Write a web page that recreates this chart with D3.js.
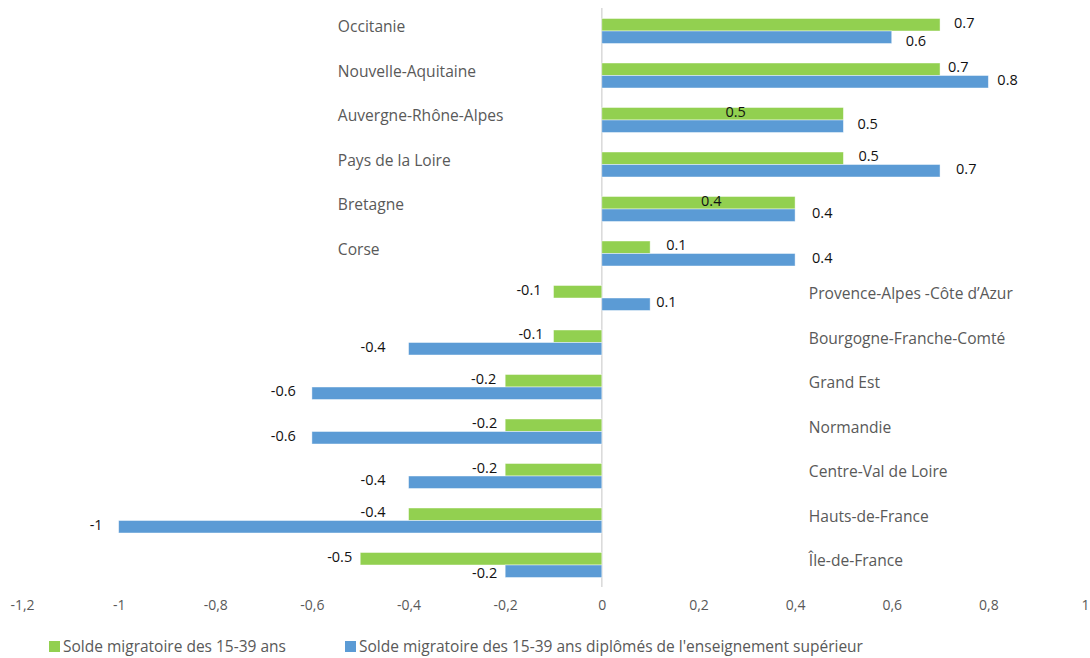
<!DOCTYPE html>
<html>
<head>
<meta charset="utf-8">
<script src="https://cdn.jsdelivr.net/npm/d3@7"></script>
<style>
  html, body { margin: 0; padding: 0; background: #fff; }
  svg { display: block; }
  text { font-family: "Open Sans", "Noto Sans", sans-serif; }
</style>
</head>
<body>
<svg id="chart" width="1090" height="658"></svg>
<script>
// ---- data ----
const regions = [
  "Occitanie", "Nouvelle-Aquitaine", "Auvergne-Rhône-Alpes", "Pays de la Loire",
  "Bretagne", "Corse", "Provence-Alpes -Côte d’Azur", "Bourgogne-Franche-Comté",
  "Grand Est", "Normandie", "Centre-Val de Loire", "Hauts-de-France", "Île-de-France"
];
const solde1539 = [0.7, 0.7, 0.5, 0.5, 0.4, 0.1, -0.1, -0.1, -0.2, -0.2, -0.2, -0.4, -0.5];
const soldeDiplomes = [0.6, 0.8, 0.5, 0.7, 0.4, 0.4, 0.1, -0.4, -0.6, -0.6, -0.4, -1, -0.2];
const xTicks = [-1.2, -1, -0.8, -0.6, -0.4, -0.2, 0, 0.2, 0.4, 0.6, 0.8, 1];
const seriesNames = ["Solde migratoire des 15-39 ans",
  "Solde migratoire des 15-39 ans diplômés de l'enseignement supérieur"];

// ---- layout (pixel nudges for hand-placed data labels) ----
const greenLabelDx = [0, -6, -132, 1, -108, 2, -2, 0, 1, 2, 2, -13, 2];
const blueLabelDx  = [0, -5, 0, 2, 3, 3, -8, -13, -6, -6, -13, -6, 2];
const blueLabelDy  = [6, 0, 0, 0, 0, 0, 0, 0, 0, 0, 0, 0, 4];
const colors = ["#92D050", "#5B9BD5"];

const svg = d3.select("#chart");
const x = d3.scaleLinear().domain([-1.2, 1]).range([22, 1085]);
const y = d3.scalePoint().domain(regions).range([8.75, 587.25]).padding(0.5);
const barH = 12.5;

// zero line
svg.append("line")
  .attr("x1", x(0)).attr("x2", x(0))
  .attr("y1", 8).attr("y2", 587)
  .attr("stroke", "#d9d9d9").attr("stroke-width", 1.5);

const series = [solde1539, soldeDiplomes];
series.forEach((vals, si) => {
  svg.append("g").selectAll("rect")
    .data(vals)
    .join("rect")
    .attr("x", d => x(Math.min(0, d)))
    .attr("width", d => Math.abs(x(d) - x(0)))
    .attr("y", (d, i) => y(regions[i]) - (si === 0 ? barH : 0))
    .attr("height", barH)
    .attr("fill", colors[si])
    .attr("stroke", "rgba(255,255,255,0.55)")
    .attr("stroke-width", 0.8);
});

// value labels
function fmt(v) { return String(v); }
series.forEach((vals, si) => {
  const dxArr = si === 0 ? greenLabelDx : blueLabelDx;
  svg.append("g").selectAll("text")
    .data(vals)
    .join("text")
    .attr("x", (d, i) => x(d) + (d >= 0 ? 14 : -10) + dxArr[i])
    .attr("y", (d, i) => y(regions[i]) + (si === 0 ? -barH / 2 - 2 : barH / 2 - 2 + blueLabelDy[i]))
    .attr("dy", "0.35em")
    .attr("text-anchor", d => d >= 0 ? "start" : "end")
    .attr("font-size", "14.5px")
    .attr("fill", "#111")
    .text(d => fmt(d));
});

// category labels
svg.append("g").selectAll("text")
  .data(regions)
  .join("text")
  .attr("x", (d, i) => solde1539[i] >= 0 ? x(0) - 264 : x(0) + 207)
  .attr("y", d => y(d) - 4)
  .attr("dy", "0.35em")
  .attr("font-size", "15.6px")
  .attr("fill", "#595959")
  .text(d => d);

// x axis labels
const axis = d3.axisBottom(x).tickValues(xTicks).tickSize(0).tickPadding(0)
  .tickFormat(d => String(d).replace(".", ","));
const ga = svg.append("g").attr("transform", "translate(0,600)").call(axis);
ga.select(".domain").remove();
ga.selectAll("text")
  .attr("font-family", "'Open Sans', sans-serif")
  .attr("font-size", "14px")
  .attr("fill", "#595959");

// legend
const legendX = [49, 345];
seriesNames.forEach((name, i) => {
  const g = svg.append("g").attr("transform", `translate(${legendX[i]},641)`);
  g.append("rect").attr("width", 11).attr("height", 11).attr("fill", colors[i]);
  g.append("text").attr("x", 14).attr("y", 6).attr("dy", "0.35em")
    .attr("font-size", "15.5px").attr("fill", "#595959").text(name);
});
</script>
</body>
</html>
